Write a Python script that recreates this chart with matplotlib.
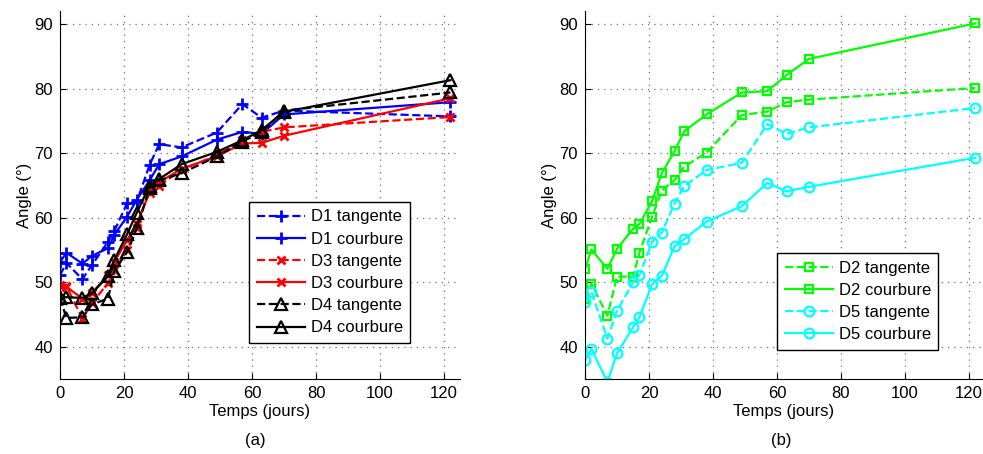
import numpy as np
from matplotlib import pyplot as plt

plt.rcParams['font.family'] = ['Liberation Sans', 'DejaVu Sans']

# temps de mesure (jours)
temps = [0, 2, 7, 10, 15, 17, 21, 24, 28, 31, 38, 49, 57, 63, 70, 122]

# (a) angles en degres
d1_tangente = [51.1, 53.0, 50.5, 52.7, 56.3, 58.0, 62.3, 62.5, 68.2, 71.4, 70.9, 73.2, 77.6, 75.5, 76.6, 75.7]
d1_courbure = [53.1, 54.6, 52.9, 54.1, 55.3, 57.4, 60.2, 62.8, 65.8, 68.3, 69.5, 72.1, 73.3, 73.0, 76.0, 77.9]
d3_tangente = [49.6, 49.4, 44.4, 46.8, 49.9, 51.9, 55.0, 58.4, 64.5, 65.0, 67.4, 69.7, 72.0, 73.3, 74.0, 75.6]
d3_courbure = [49.4, 49.3, 47.5, 48.4, 51.1, 53.2, 56.6, 59.1, 63.9, 65.5, 67.6, 69.5, 71.5, 71.6, 72.7, 78.5]
d4_tangente = [47.6, 44.5, 44.6, 46.6, 47.5, 51.8, 54.7, 58.4, 64.6, 65.8, 66.9, 69.5, 71.8, 73.3, 76.6, 79.4]
d4_courbure = [47.8, 47.7, 47.6, 48.3, 51.0, 53.5, 57.5, 60.8, 65.0, 66.0, 68.3, 70.2, 72.0, 73.6, 76.4, 81.3]

# (b)
d2_tangente = [47.4, 49.8, 44.85, 50.9, 50.9, 54.6, 60.2, 64.2, 65.85, 67.9, 70.1, 75.9, 76.45, 77.9, 78.3, 80.1]
d2_courbure = [52.0, 55.1, 52.1, 55.2, 58.3, 59.0, 62.6, 66.9, 70.3, 73.4, 76.0, 79.4, 79.6, 82.1, 84.6, 90.1]
d5_tangente = [47.0, 48.5, 41.3, 45.6, 50.0, 51.1, 56.3, 57.7, 62.2, 64.9, 67.4, 68.5, 74.5, 73.0, 74.0, 77.0]
d5_courbure = [38.0, 39.7, 34.6, 39.0, 43.05, 44.6, 49.75, 51.0, 55.6, 56.7, 59.4, 61.8, 65.4, 64.1, 64.8, 69.3]

W, H = 983, 454
fig = plt.figure(figsize=(W / 100, H / 100), dpi=100)

ax1 = fig.add_axes([60 / W, (H - 379.3) / H, 400 / W, 368.2 / H])
ax2 = fig.add_axes([585 / W, (H - 379.3) / H, 397 / W, 368.2 / H])

lw = 1.6
ax1.plot(temps, d1_tangente, '--', color='blue', marker='+', ms=8, mew=2, lw=lw, label='D1 tangente')
ax1.plot(temps, d1_courbure, '-', color='blue', marker='+', ms=8, mew=2, lw=lw, label='D1 courbure')
ax1.plot(temps, d3_tangente, '--', color='red', marker='x', ms=5.5, mew=2, lw=lw, label='D3 tangente')
ax1.plot(temps, d3_courbure, '-', color='red', marker='x', ms=5.5, mew=2, lw=lw, label='D3 courbure')
ax1.plot(temps, d4_tangente, '--', color='black', marker='^', ms=8.5, mew=1.6, mfc='none', lw=lw, label='D4 tangente')
ax1.plot(temps, d4_courbure, '-', color='black', marker='^', ms=8.5, mew=1.6, mfc='none', lw=lw, label='D4 courbure')

ax2.plot(temps, d2_tangente, '--', color='#00ff00', marker='s', ms=5.5, mew=1.6, mfc='none', lw=lw, label='D2 tangente')
ax2.plot(temps, d2_courbure, '-', color='#00ff00', marker='s', ms=5.5, mew=1.6, mfc='none', lw=lw, label='D2 courbure')
ax2.plot(temps, d5_tangente, '--', color='cyan', marker='o', ms=7, mew=1.6, mfc='none', lw=lw, label='D5 tangente')
ax2.plot(temps, d5_courbure, '-', color='cyan', marker='o', ms=7, mew=1.6, mfc='none', lw=lw, label='D5 courbure')

for ax, xmax in [(ax1, 125), (ax2, 124.1)]:
    ax.set_xlim(0, xmax)
    ax.set_ylim(35, 92)
    ax.set_xticks(np.arange(0, 121, 20))
    ax.set_yticks(np.arange(40, 91, 10))
    for spine in ['top', 'right']:
        ax.spines[spine].set_visible(False)
    ax.tick_params(direction='in', length=4, labelsize=12, pad=5)
    ax.grid(color='0.45', linestyle=(0, (1, 4)), linewidth=0.9)
    ax.set_xlabel('Temps (jours)', fontsize=12, labelpad=2)
    ax.set_ylabel('Angle (°)', fontsize=12, labelpad=2)

leg_kw = dict(fontsize=12, frameon=True, fancybox=False, edgecolor='black',
              handlelength=2.9, handletextpad=0.35, labelspacing=0.43,
              borderpad=0.45, borderaxespad=0)
leg1 = ax1.legend(loc='upper left', bbox_to_anchor=(249 / W, 1 - 202 / H),
                  bbox_transform=fig.transFigure, **leg_kw)
leg2 = ax2.legend(loc='upper left', bbox_to_anchor=(777 / W, 1 - 253 / H),
                  bbox_transform=fig.transFigure, **leg_kw)
for leg in (leg1, leg2):
    leg.get_frame().set_linewidth(1.0)
    leg.get_frame().set_alpha(1)

fig.text(255 / W, 1 - 441 / H, '(a)', fontsize=12, ha='center', va='center')
fig.text(781 / W, 1 - 441 / H, '(b)', fontsize=12, ha='center', va='center')

fig.savefig('out.png', dpi=100)
